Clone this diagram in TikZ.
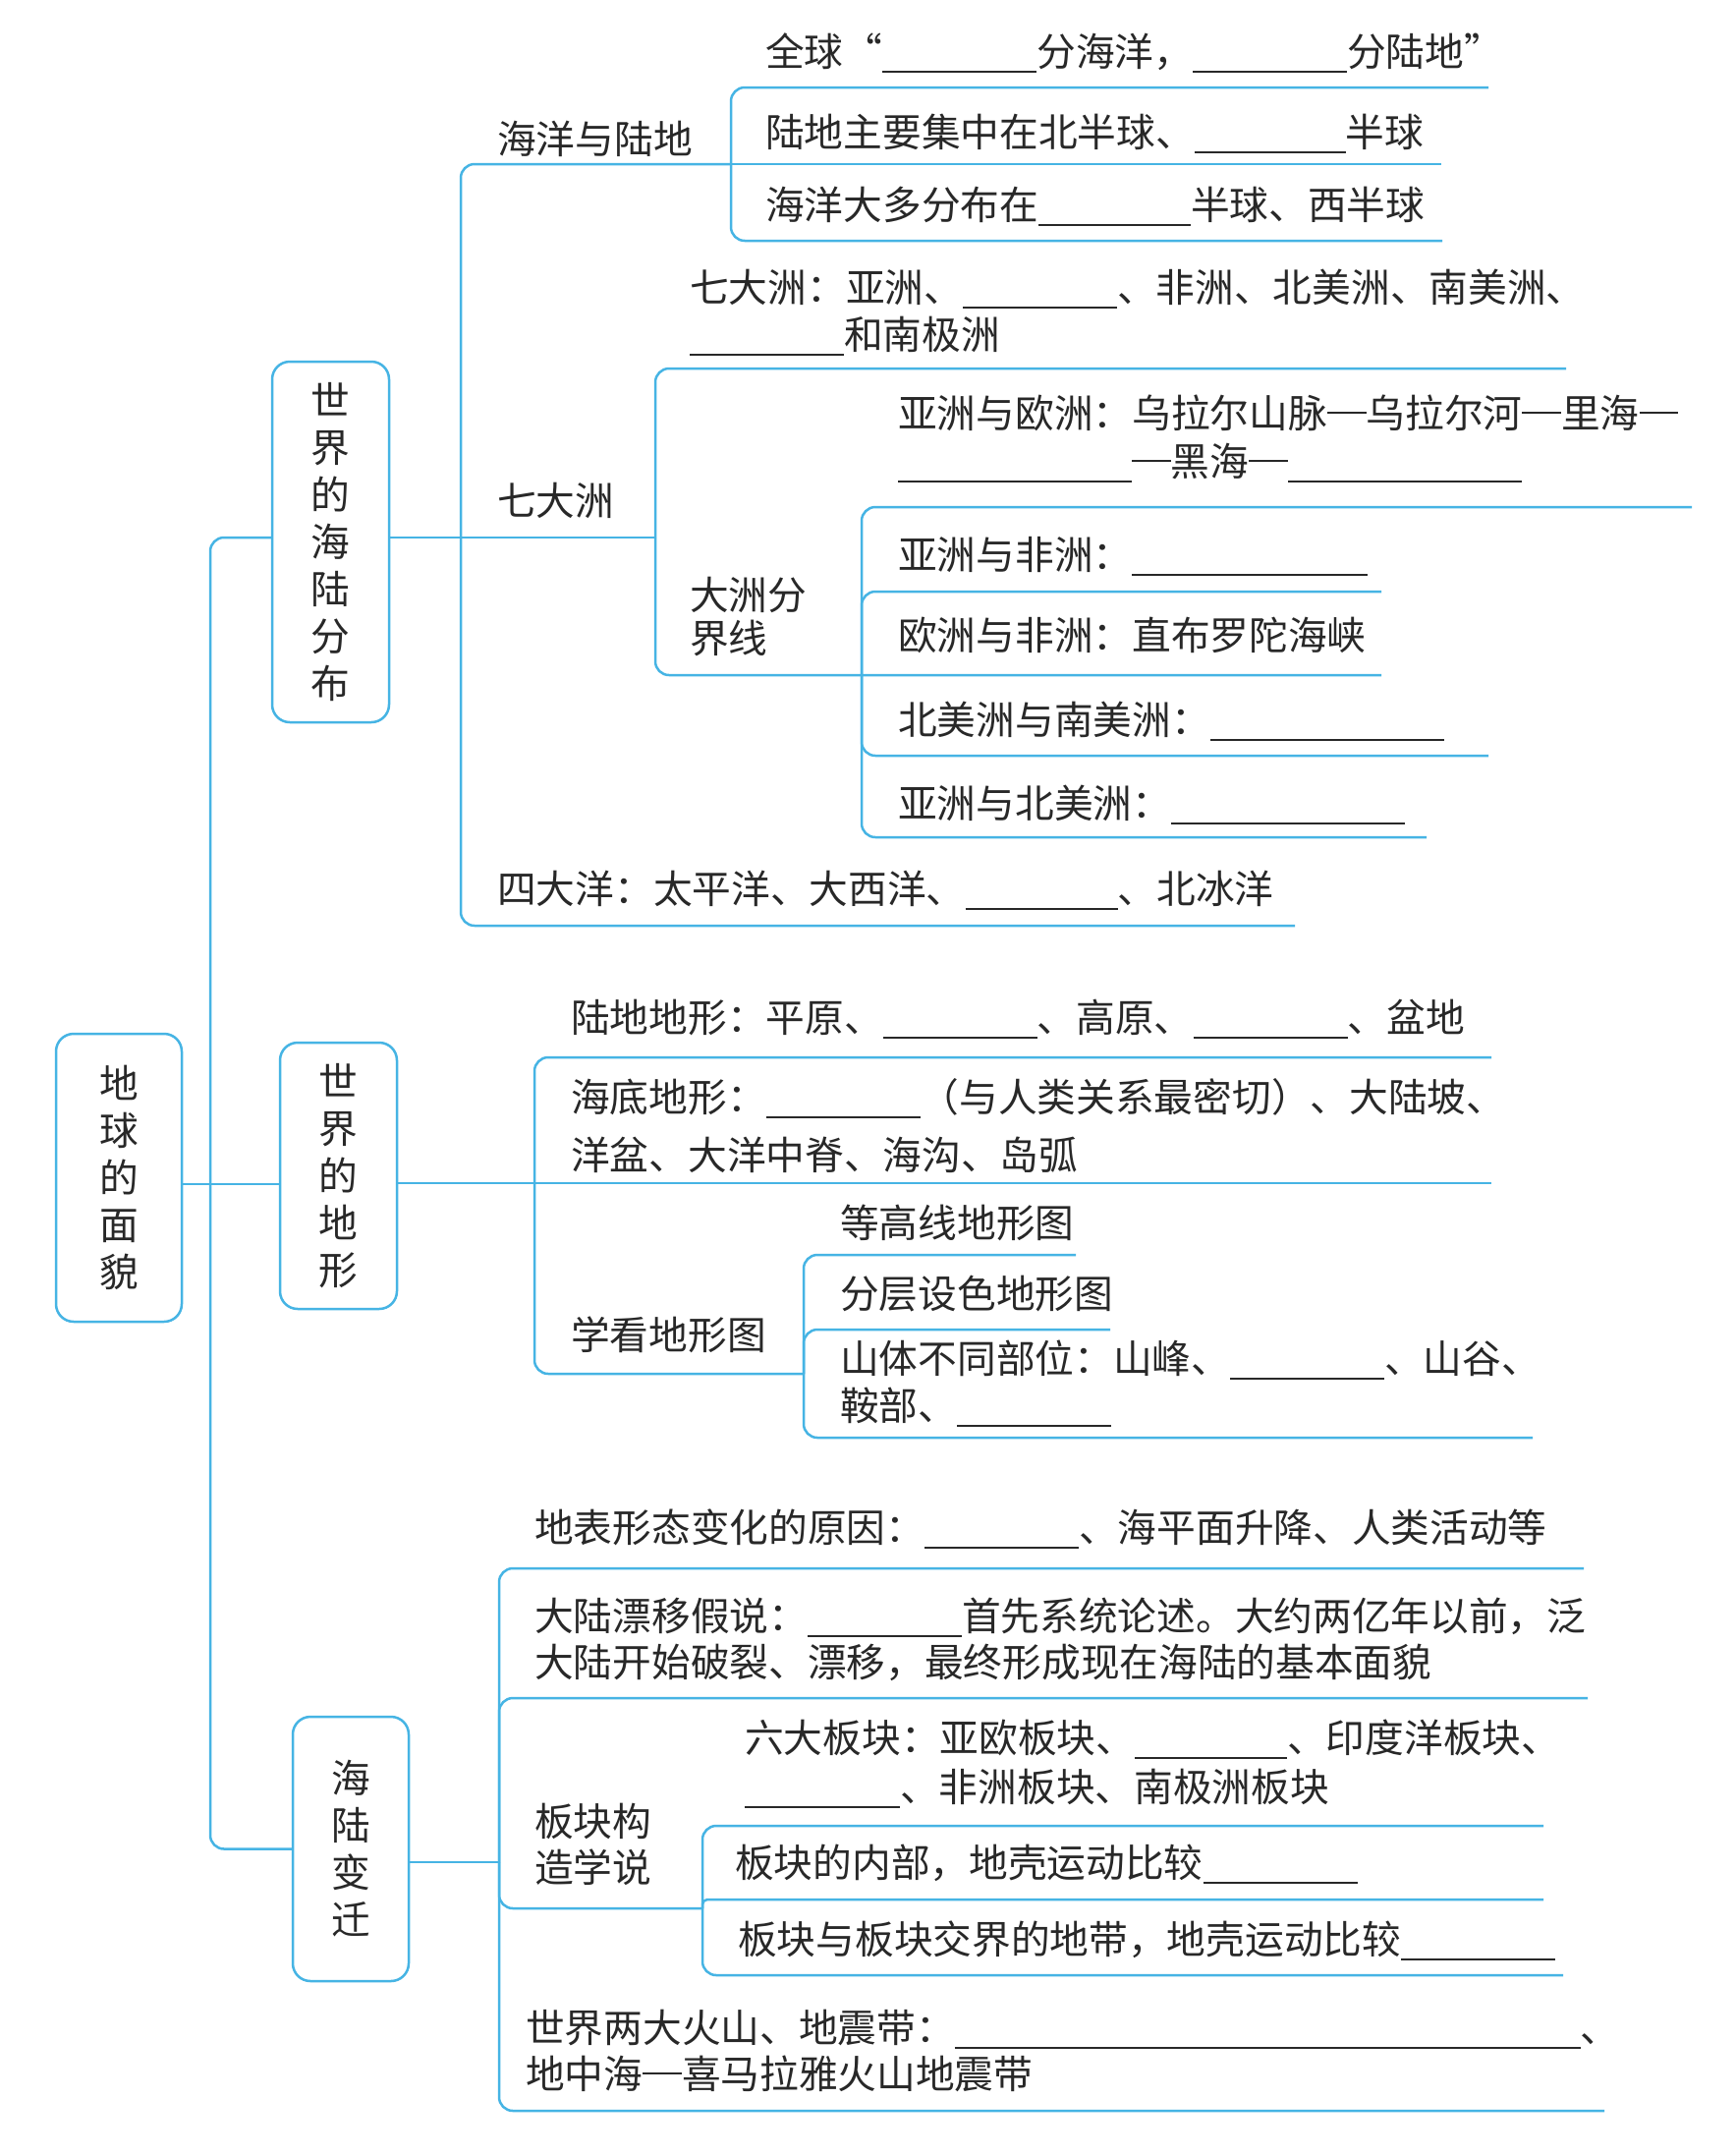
\documentclass[tikz,border=0pt]{standalone}
\usepackage{fontspec}
\setmainfont{Noto Sans CJK SC}
\definecolor{lineblue}{RGB}{70,180,228}
\definecolor{ink}{RGB}{40,40,40}
\newcommand\blank[1]{\rule[-7pt]{#1pt}{1.6pt}}
\newcommand\openq{\makebox[39.7pt][r]{“}}
\newcommand\cjdash{\rule[14pt]{39.7pt}{1.8pt}}
\begin{document}
\begin{tikzpicture}[x=1pt,y=-1pt,
  conn/.style={draw=lineblue,line width=2.5pt,rounded corners=14pt},
  txt/.style={anchor=base west,inner sep=0pt,text=ink,font=\fontsize{39.7}{48}\selectfont},
  vbox/.style={draw=lineblue,line width=2.5pt,rounded corners=18pt,align=center,text=ink,inner sep=0pt,font=\fontsize{39.7}{48}\selectfont}]
\useasboundingbox[fill=white] (0,0) rectangle (1767,2193);

% boxes
\node[vbox,minimum width=128pt,minimum height=293pt] (r0) at (121,1198.5) {地\\球\\的\\面\\貌};
\node[vbox,minimum width=119pt,minimum height=367pt] (b1) at (336.5,551.5) {世\\界\\的\\海\\陆\\分\\布};
\node[vbox,minimum width=119pt,minimum height=271pt] (b2) at (344.5,1196.5) {世\\界\\的\\地\\形};
\node[vbox,minimum width=118pt,minimum height=269pt] (b3) at (357,1881.5) {海\\陆\\变\\迁};

% junctions and ends
\coordinate (j0) at (214,1205);
\coordinate (jA) at (469,547);
\coordinate (jA1) at (744,167);
\coordinate (jB) at (667,547);
\coordinate (jC) at (877,687);
\coordinate (jD) at (544,1204);
\coordinate (jE) at (818,1398);
\coordinate (jF) at (508,1895);
\coordinate (jG) at (715,1942);
\coordinate (eA1t) at (1515,89);
\coordinate (eA1m) at (1467,167);
\coordinate (eA1b) at (1468,245);
\coordinate (eA3) at (1318,942);
\coordinate (eB1) at (1594,375);
\coordinate (eC1) at (1722,516);
\coordinate (eC2) at (1406,602);
\coordinate (eC3) at (1406,687);
\coordinate (eC4) at (1515,769);
\coordinate (eC5) at (1452,852);
\coordinate (eD1) at (1518,1076);
\coordinate (eD2) at (1518,1204);
\coordinate (eE1) at (1095,1277);
\coordinate (eE2) at (1130,1353);
\coordinate (eE3) at (1560,1463);
\coordinate (eF1) at (1612,1596);
\coordinate (eF2) at (1616,1728);
\coordinate (eF4) at (1633,2148);
\coordinate (eG1) at (1571,1858);
\coordinate (eG2) at (1571,1933);
\coordinate (eG3) at (1591,2010);

% main connectors
\draw[conn] (r0.east |- j0) -- (b2.west |- j0);
\draw[conn] (j0) |- (b1.west |- jA);
\draw[conn] (j0) |- (b3.west);

% 世界的海陆分布
\draw[conn] (b1.east |- jA) -- (jB);
\draw[conn] (jA) |- (jA1);
\draw[conn] (jA) |- (eA3);
\draw[conn] (jA1) -- (eA1m);
\draw[conn] (jA1) |- (eA1t);
\draw[conn] (jA1) |- (eA1b);
\draw[conn] (jB) |- (eB1);
\draw[conn] (jB) |- (jC) -- (eC3);
\draw[conn] (jC) |- (eC1);
\draw[conn] (jC) |- (eC2);
\draw[conn] (jC) |- (eC4);
\draw[conn] (jC) |- (eC5);

% 世界的地形
\draw[conn] (b2.east |- jD) -- (eD2);
\draw[conn] (jD) |- (eD1);
\draw[conn] (jD) |- (jE);
\draw[conn] (jE) |- (eE1);
\draw[conn] (jE) |- (eE2);
\draw[conn] (jE) |- (eE3);

% 海陆变迁
\draw[conn] (b3.east |- jF) -- (jF);
\draw[conn] (jF) |- (eF1);
\draw[conn] (jF) |- (eF2);
\draw[conn] (jF) |- (jG);
\draw[conn] (jF) |- (eF4);
\draw[conn] (jG) |- (eG1);
\draw[conn,rounded corners=5pt] (jG) |- (eG2);
\draw[conn] (jG) |- (eG3);

% texts (baseline = visual centre + 15)
\node[txt] (tA0) at (506,156) {海洋与陆地};
\node[txt] (tA1) at (779,67) {全球\openq\blank{157}分海洋，\blank{157}分陆地”};
\node[txt] (tA2) at (779,149) {陆地主要集中在北半球、\blank{154}半球};
\node[txt] (tA3) at (779,223) {海洋大多分布在\blank{155}半球、西半球};

\node[txt] (tB0) at (506,524) {七大洲};
\node[txt] (tB1a) at (702,307) {七大洲：亚洲、\blank{157}、非洲、北美洲、南美洲、};
\node[txt] (tB1b) at (702,355) {\blank{157}和南极洲};
\node[txt] (tB2a) at (702,620) {大洲分};
\node[txt] (tB2b) at (702,664) {界线};
\node[txt] (tC1a) at (914,435) {亚洲与欧洲：乌拉尔山脉\cjdash 乌拉尔河\cjdash 里海\cjdash};
\node[txt] (tC1b) at (914,484) {\blank{238}\cjdash 黑海\cjdash\blank{238}};
\node[txt] (tC2) at (914,579) {亚洲与非洲：\blank{240}};
\node[txt] (tC3) at (914,661) {欧洲与非洲：直布罗陀海峡};
\node[txt] (tC4) at (914,747) {北美洲与南美洲：\blank{238}};
\node[txt] (tC5) at (914,832) {亚洲与北美洲：\blank{238}};
\node[txt] (tB3) at (506,919) {四大洋：太平洋、大西洋、\blank{155}、北冰洋};

\node[txt] (tD1) at (581,1050) {陆地地形：平原、\blank{157}、高原、\blank{157}、盆地};
\node[txt] (tD2a) at (581,1131) {海底地形：\blank{157}（与人类关系最密切）、大陆坡、};
\node[txt] (tD2b) at (581,1190) {洋盆、大洋中脊、海沟、岛弧};
\node[txt] (tD3) at (581,1373) {学看地形图};
\node[txt] (tE1) at (855,1259) {等高线地形图};
\node[txt] (tE2) at (855,1331) {分层设色地形图};
\node[txt] (tE3a) at (855,1397) {山体不同部位：山峰、\blank{157}、山谷、};
\node[txt] (tE3b) at (855,1445) {鞍部、\blank{157}};

\node[txt] (tF1) at (544,1569) {地表形态变化的原因：\blank{157}、海平面升降、人类活动等};
\node[txt] (tF2a) at (544,1659) {大陆漂移假说：\blank{157}首先系统论述。大约两亿年以前，泛};
\node[txt] (tF2b) at (544,1706) {大陆开始破裂、漂移，最终形成现在海陆的基本面貌};
\node[txt] (tF3a) at (544,1868) {板块构};
\node[txt] (tF3b) at (544,1915) {造学说};
\node[txt] (tG1a) at (758,1783) {六大板块：亚欧板块、\blank{155}、印度洋板块、};
\node[txt] (tG1b) at (758,1833) {\blank{158}、非洲板块、南极洲板块};
\node[txt] (tG2) at (748,1910) {板块的内部，地壳运动比较\blank{157}};
\node[txt] (tG3) at (751,1988) {板块与板块交界的地带，地壳运动比较\blank{157}};
\node[txt] (tF4a) at (535,2078) {世界两大火山、地震带：\blank{637}、};
\node[txt] (tF4b) at (535,2125) {地中海\cjdash 喜马拉雅火山地震带};
\end{tikzpicture}
\end{document}
